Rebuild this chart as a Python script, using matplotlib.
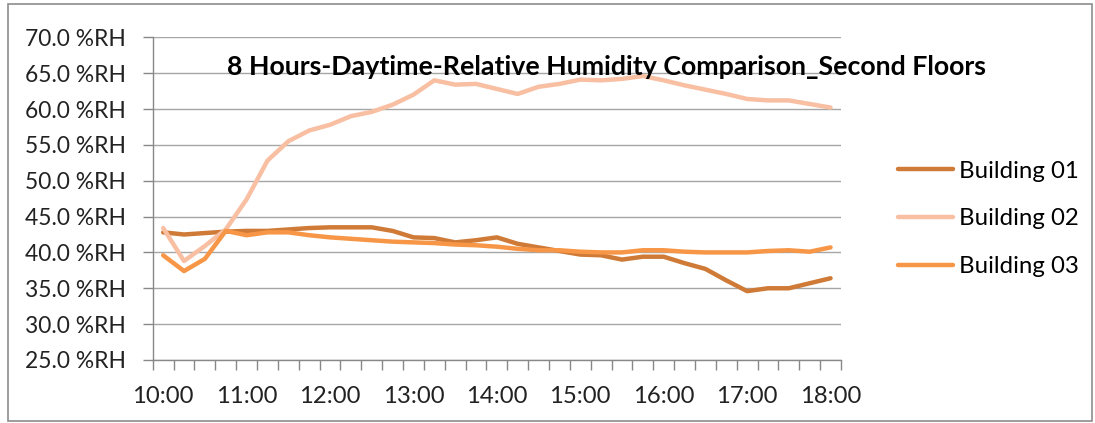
import matplotlib.pyplot as plt
from matplotlib.patches import Rectangle

times = ["10:00", "10:15", "10:30", "10:45", "11:00", "11:15", "11:30", "11:45",
         "12:00", "12:15", "12:30", "12:45", "13:00", "13:15", "13:30", "13:45",
         "14:00", "14:15", "14:30", "14:45", "15:00", "15:15", "15:30", "15:45",
         "16:00", "16:15", "16:30", "16:45", "17:00", "17:15", "17:30", "17:45",
         "18:00"]

building_01 = [42.8, 42.5, 42.7, 42.9, 43.0, 43.0, 43.2, 43.4, 43.5, 43.5, 43.5,
               43.0, 42.1, 42.0, 41.4, 41.7, 42.1, 41.2, 40.7, 40.2, 39.7, 39.6,
               39.0, 39.4, 39.4, 38.5, 37.7, 36.1, 34.6, 35.0, 35.0, 35.7, 36.4]
building_02 = [43.4, 38.8, 40.9, 43.2, 47.4, 52.8, 55.5, 57.0, 57.8, 59.0, 59.6,
               60.6, 62.0, 64.0, 63.4, 63.5, 62.8, 62.1, 63.1, 63.5, 64.1, 64.0,
               64.2, 64.6, 64.0, 63.3, 62.7, 62.1, 61.4, 61.2, 61.2, 60.7, 60.2]
building_03 = [39.6, 37.4, 39.1, 43.0, 42.4, 42.8, 42.8, 42.4, 42.1, 41.9, 41.7,
               41.5, 41.4, 41.3, 41.1, 41.0, 40.8, 40.5, 40.3, 40.3, 40.1, 40.0,
               40.0, 40.3, 40.3, 40.1, 40.0, 40.0, 40.0, 40.2, 40.3, 40.1, 40.7]

series = [("Building 01", building_01, "#CF7A36"),
          ("Building 02", building_02, "#F8BFA2"),
          ("Building 03", building_03, "#F79646")]

yticks = [25, 30, 35, 40, 45, 50, 55, 60, 65, 70]

plt.rcParams['font.family'] = ['Lato', 'DejaVu Sans']

fig = plt.figure(figsize=(10.95, 4.23), dpi=100)
ax = fig.add_axes([0.1395, 0.149, 0.6285, 0.7628])

x = list(range(len(times)))
for name, vals, color in series:
    ax.plot(x, vals, color=color, lw=3.2, label=name, solid_capstyle='round',
            solid_joinstyle='round')

ax.set_ylim(25, 70)
ax.set_yticks(yticks)
ax.set_yticklabels([f"{v:.1f} %RH" for v in yticks], fontsize=16.4, color="#222222")
ax.set_xlim(-0.5, len(times) - 0.5)
ax.set_xticks(x[::4])
ax.set_xticklabels(times[::4], fontsize=17.2, color="#222222")
ax.set_xticks([i - 0.5 for i in range(len(times) + 1)], minor=True)
ax.tick_params(axis='x', which='major', length=0, pad=19)
ax.tick_params(axis='x', which='minor', length=7, color="#888888", width=1)
ax.tick_params(axis='y', length=7, color="#888888", width=1, pad=12)

ax.grid(axis='y', color="#A6A6A6", lw=1)
ax.set_axisbelow(True)
for side in ['top', 'right']:
    ax.spines[side].set_visible(False)
for side in ['left', 'bottom']:
    ax.spines[side].set_color("#888888")
    ax.spines[side].set_linewidth(1)

fig.text(0.554, 0.842, "8 Hours-Daytime-Relative Humidity Comparison_Second Floors",
         ha='center', va='center', fontsize=19.3, fontweight='bold')

ax.legend(loc='center left', bbox_to_anchor=(1.051, 0.437), frameon=False,
          fontsize=17.3, handlelength=2.3, handletextpad=0.25, labelspacing=1.12)

fig.patches.append(Rectangle((0.007, 0.005), 0.99, 0.985, transform=fig.transFigure,
                             fill=False, edgecolor="#8C8C8C", lw=1.2))

fig.savefig("out.png", dpi=100)
